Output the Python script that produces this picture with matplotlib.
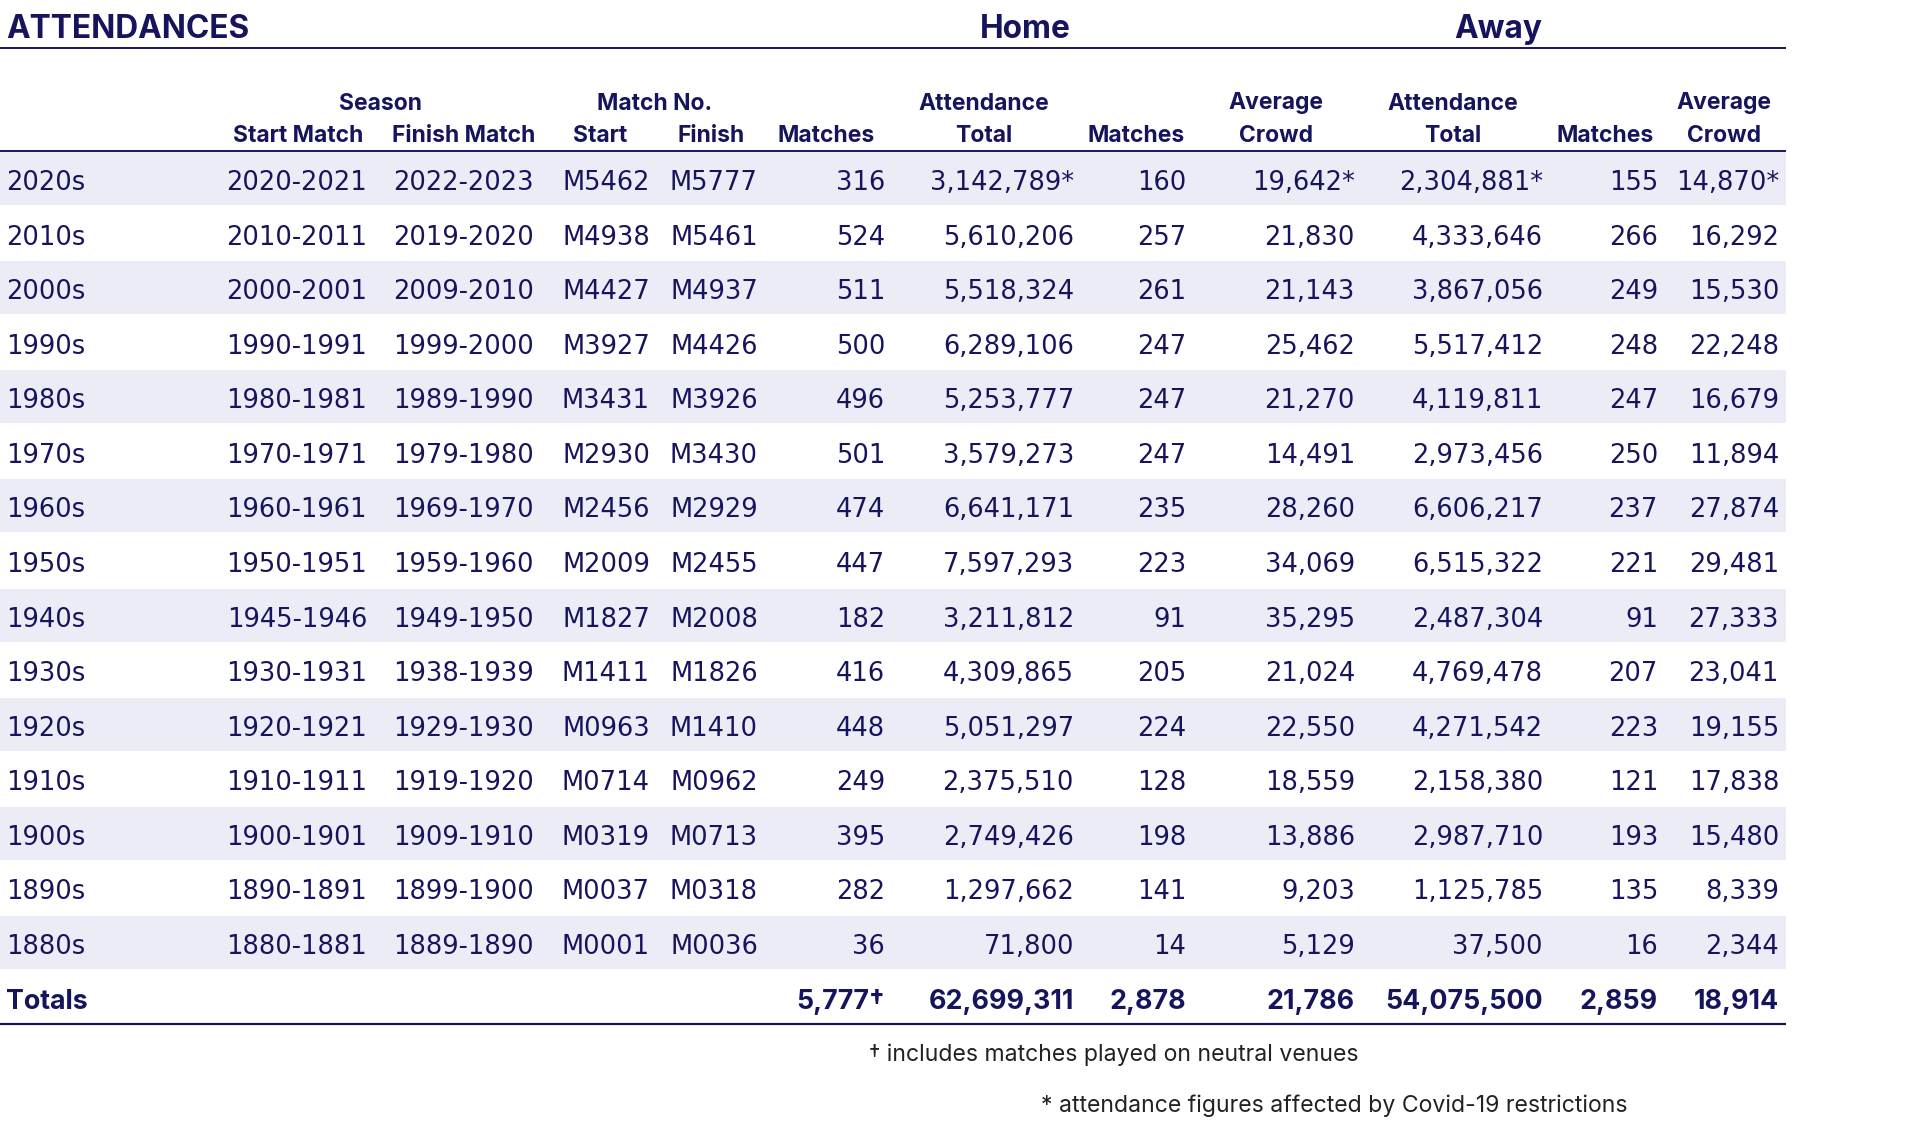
import matplotlib
matplotlib.use("Agg")
import matplotlib.pyplot as plt

plt.rcParams['font.family'] = ['Inter', 'DejaVu Sans']
BODY_FONT = ['DejaVu Sans']   # tabular digits keep the columns straight

decades = ['2020s', '2010s', '2000s', '1990s', '1980s', '1970s', '1960s', '1950s',
           '1940s', '1930s', '1920s', '1910s', '1900s', '1890s', '1880s']
season_start = ['2020-2021', '2010-2011', '2000-2001', '1990-1991', '1980-1981',
                '1970-1971', '1960-1961', '1950-1951', '1945-1946', '1930-1931',
                '1920-1921', '1910-1911', '1900-1901', '1890-1891', '1880-1881']
season_finish = ['2022-2023', '2019-2020', '2009-2010', '1999-2000', '1989-1990',
                 '1979-1980', '1969-1970', '1959-1960', '1949-1950', '1938-1939',
                 '1929-1930', '1919-1920', '1909-1910', '1899-1900', '1889-1890']
match_start = ['M5462', 'M4938', 'M4427', 'M3927', 'M3431', 'M2930', 'M2456', 'M2009',
               'M1827', 'M1411', 'M0963', 'M0714', 'M0319', 'M0037', 'M0001']
match_finish = ['M5777', 'M5461', 'M4937', 'M4426', 'M3926', 'M3430', 'M2929', 'M2455',
                'M2008', 'M1826', 'M1410', 'M0962', 'M0713', 'M0318', 'M0036']
matches = [316, 524, 511, 500, 496, 501, 474, 447, 182, 416, 448, 249, 395, 282, 36]
home_total = [3142789, 5610206, 5518324, 6289106, 5253777, 3579273, 6641171, 7597293,
              3211812, 4309865, 5051297, 2375510, 2749426, 1297662, 71800]
home_matches = [160, 257, 261, 247, 247, 247, 235, 223, 91, 205, 224, 128, 198, 141, 14]
home_avg = [19642, 21830, 21143, 25462, 21270, 14491, 28260, 34069, 35295, 21024,
            22550, 18559, 13886, 9203, 5129]
away_total = [2304881, 4333646, 3867056, 5517412, 4119811, 2973456, 6606217, 6515322,
              2487304, 4769478, 4271542, 2158380, 2987710, 1125785, 37500]
away_matches = [155, 266, 249, 248, 247, 250, 237, 221, 91, 207, 223, 121, 193, 135, 16]
away_avg = [14870, 16292, 15530, 22248, 16679, 11894, 27874, 29481, 27333, 23041,
            19155, 17838, 15480, 8339, 2344]
covid = [True] + [False] * 14

totals = ['5,777\u2020', 62699311, 2878, 21786, 54075500, 2859, 18914]

foot1 = '\u2020 includes matches played on neutral venues'
foot2 = '* attendance figures affected by Covid-19 restrictions'

# ---- style ----
NAVY = '#17145e'
BAND = '#ececf6'
FOOT = '#222222'
W, H = 1918, 1128

fig = plt.figure(figsize=(W / 100, H / 100), dpi=100)
ax = fig.add_axes([0, 0, 1, 1])
ax.set_xlim(0, W)
ax.set_ylim(H, 0)
ax.axis('off')

right_edge = 1786
first_base = 190
pitch = 54.57
band_top = 152
band_h = 53

# column anchors (x, alignment)
cols = {
    'decade': (6, 'left'), 'sstart': (367, 'right'), 'sfin': (534, 'right'),
    'mstart': (650, 'right'), 'mfin': (758, 'right'), 'matches': (885, 'right'),
    'htot': (1074, 'right'), 'hm': (1186, 'right'), 'havg': (1355, 'right'),
    'atot': (1543, 'right'), 'am': (1658, 'right'), 'aavg': (1779, 'right'),
}

body_fs = 18.5
tot_fs = 19.3
head_fs = 16.5
big_fs = 22.8


def put(key, y, s, fs=body_fs, **kw):
    x, ha = cols[key]
    ax.text(x, y, s, ha=ha, va='baseline', color=NAVY, fontsize=fs, **kw)


# title row
ax.text(6, 38, 'ATTENDANCES', ha='left', va='baseline', color=NAVY,
        fontsize=big_fs, fontweight='bold')
ax.text(1025, 38, 'Home', ha='center', va='baseline', color=NAVY,
        fontsize=big_fs, fontweight='bold')
ax.text(1498, 38, 'Away', ha='center', va='baseline', color=NAVY,
        fontsize=big_fs, fontweight='bold')
ax.plot([0, right_edge], [48, 48], color=NAVY, lw=1.4, solid_capstyle='butt')

# header rows
head1 = [(380, 'Season'), (655, 'Match No.'), (984, 'Attendance'), (1276, 'Average'),
         (1453, 'Attendance'), (1724, 'Average')]
head2 = [(298, 'Start Match'), (464, 'Finish Match'), (600, 'Start'), (711, 'Finish'),
         (826, 'Matches'), (984, 'Total'), (1136, 'Matches'), (1276, 'Crowd'),
         (1453, 'Total'), (1605, 'Matches'), (1724, 'Crowd')]
for x, s in head1:
    ax.text(x, 109.5, s, ha='center', va='baseline', color=NAVY,
            fontsize=head_fs, fontweight='bold')
for x, s in head2:
    ax.text(x, 142, s, ha='center', va='baseline', color=NAVY,
            fontsize=head_fs, fontweight='bold')
ax.plot([0, right_edge], [151, 151], color=NAVY, lw=1.4, solid_capstyle='butt')

# body
for i, dec in enumerate(decades):
    y = first_base + i * pitch
    if i % 2 == 0:
        ax.add_patch(plt.Rectangle((0, band_top + i * pitch), right_edge, band_h,
                                   facecolor=BAND, edgecolor='none', zorder=0))
    star = '*' if covid[i] else ''
    row = [('decade', dec), ('sstart', season_start[i]), ('sfin', season_finish[i]),
           ('mstart', match_start[i]), ('mfin', match_finish[i]),
           ('matches', f'{matches[i]:,}'), ('htot', f'{home_total[i]:,}' + star),
           ('hm', f'{home_matches[i]:,}'), ('havg', f'{home_avg[i]:,}' + star),
           ('atot', f'{away_total[i]:,}' + star), ('am', f'{away_matches[i]:,}'),
           ('aavg', f'{away_avg[i]:,}' + star)]
    for key, s in row:
        put(key, y, s, family=BODY_FONT)

# totals
yt = first_base + len(decades) * pitch
put('decade', yt, 'Totals', fs=tot_fs, fontweight='bold')
for key, v in zip(['matches', 'htot', 'hm', 'havg', 'atot', 'am', 'aavg'], totals):
    s = v if isinstance(v, str) else f'{v:,}'
    put(key, yt, s, fs=tot_fs, fontweight='bold')
ax.plot([0, right_edge], [1024, 1024], color=NAVY, lw=1.6, solid_capstyle='butt')

# footnotes
ax.text(869, 1061, foot1, ha='left', va='baseline', color=FOOT, fontsize=16.6)
ax.text(1041, 1112, foot2, ha='left', va='baseline', color=FOOT, fontsize=16.6)

fig.savefig('out.png', dpi=100, facecolor='white')
